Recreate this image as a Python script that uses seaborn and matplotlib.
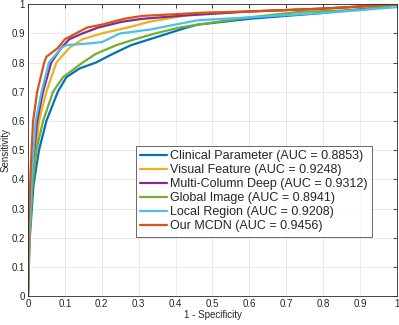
import numpy as np
import pandas as pd
import matplotlib
matplotlib.use("Agg")
import matplotlib.pyplot as plt
import seaborn as sns

sns.set_theme(style="whitegrid")
plt.rcParams['font.family'] = ['Liberation Sans', 'DejaVu Sans']

labels = ["Clinical Parameter (AUC = 0.8853)",
          "Visual Feature (AUC = 0.9248)",
          "Multi-Column Deep (AUC = 0.9312)",
          "Global Image (AUC = 0.8941)",
          "Local Region (AUC = 0.9208)",
          "Our MCDN (AUC = 0.9456)"]
colors = ["#0072BD", "#EDB120", "#7E2F8E", "#77AC30", "#4DBEEE", "#D95319"]

clin_x = [0, 0.005, 0.015, 0.03, 0.05, 0.081, 0.104, 0.14, 0.184, 0.23, 0.28, 0.33, 0.38, 0.43, 0.46, 0.6, 0.8, 0.95, 1]
clin_y = [0, 0.2, 0.38, 0.5, 0.6, 0.7, 0.75, 0.78, 0.8, 0.83, 0.86, 0.88, 0.9, 0.92, 0.93, 0.95, 0.97, 0.99, 1]
vis_x = [0, 0.004, 0.012, 0.03, 0.05, 0.077, 0.112, 0.148, 0.2, 0.27, 0.33, 0.42, 0.46, 0.7, 0.9, 1]
vis_y = [0, 0.2, 0.4, 0.6, 0.7, 0.8, 0.85, 0.88, 0.9, 0.92, 0.94, 0.96, 0.97, 0.98, 0.99, 1]
mcd_x = [0, 0.003, 0.01, 0.025, 0.041, 0.063, 0.09, 0.112, 0.148, 0.19, 0.255, 0.31, 0.41, 0.6, 0.8, 1]
mcd_y = [0, 0.2, 0.4, 0.6, 0.7, 0.8, 0.85, 0.88, 0.9, 0.92, 0.94, 0.95, 0.96, 0.975, 0.985, 1]
glob_x = [0, 0.004, 0.012, 0.023, 0.041, 0.068, 0.095, 0.148, 0.184, 0.24, 0.29, 0.345, 0.41, 0.46, 0.6, 0.737, 0.9, 1]
glob_y = [0, 0.2, 0.38, 0.5, 0.6, 0.7, 0.75, 0.8, 0.83, 0.86, 0.88, 0.9, 0.92, 0.93, 0.955, 0.974, 0.98, 1]
loc_x = [0, 0.003, 0.01, 0.021, 0.037, 0.057, 0.09, 0.104, 0.16, 0.2, 0.25, 0.33, 0.39, 0.46, 0.6, 0.8, 1]
loc_y = [0, 0.2, 0.4, 0.6, 0.7, 0.8, 0.85, 0.86, 0.865, 0.87, 0.9, 0.913, 0.928, 0.945, 0.955, 0.97, 0.99]
our_x = [0, 0.002, 0.008, 0.014, 0.025, 0.044, 0.05, 0.081, 0.1, 0.13, 0.16, 0.2, 0.26, 0.31, 0.46, 0.6, 0.8, 1]
our_y = [0, 0.25, 0.45, 0.6, 0.7, 0.8, 0.82, 0.85, 0.88, 0.9, 0.92, 0.93, 0.95, 0.96, 0.97, 0.975, 0.985, 1]

curves = [(clin_x, clin_y), (vis_x, vis_y), (mcd_x, mcd_y),
          (glob_x, glob_y), (loc_x, loc_y), (our_x, our_y)]
frames = []
for lab, (xs, ys) in zip(labels, curves):
    frames.append(pd.DataFrame({"fpr": xs, "tpr": ys, "model": lab}))
df = pd.concat(frames, ignore_index=True)

fig = plt.figure(figsize=(3.99, 3.25), dpi=100)
ax = fig.add_axes([0.070, 0.089, 0.925, 0.898])
sns.lineplot(data=df, x="fpr", y="tpr", hue="model", hue_order=labels,
             palette=colors, sort=False, linewidth=1.6, ax=ax)

ax.set_xlim(0, 1)
ax.set_ylim(0, 1)
ax.set_xticks(np.arange(0, 1.01, 0.1))
ax.set_yticks(np.arange(0, 1.01, 0.1))
ax.set_xticklabels(["0", "0.1", "0.2", "0.3", "0.4", "0.5", "0.6", "0.7", "0.8", "0.9", "1"])
ax.set_yticklabels(["0", "0.1", "0.2", "0.3", "0.4", "0.5", "0.6", "0.7", "0.8", "0.9", "1"])
ax.set_xlabel("1 - Specificity", fontsize=7, labelpad=1, color="#262626")
ax.set_ylabel("Sensitivity", fontsize=7, labelpad=1, color="#262626")
ax.tick_params(axis="both", labelsize=7, colors="#262626", direction="in",
               length=3, width=0.6, top=True, right=True, pad=2)
ax.grid(True, color="#e6e6e6", linewidth=0.6)
ax.set_facecolor("white")
for s in ax.spines.values():
    s.set_color("#262626")
    s.set_linewidth(0.6)

leg = ax.legend(loc="upper left", bbox_to_anchor=(0.293, 0.514), fontsize=9.0,
                frameon=True, fancybox=False, handlelength=2.1, handletextpad=0.3,
                borderpad=0.35, labelspacing=0.16, borderaxespad=0)
leg.get_frame().set_edgecolor("#262626")
leg.get_frame().set_linewidth(0.6)
for line in leg.get_lines():
    line.set_linewidth(1.6)

fig.savefig("out.png", dpi=100)
